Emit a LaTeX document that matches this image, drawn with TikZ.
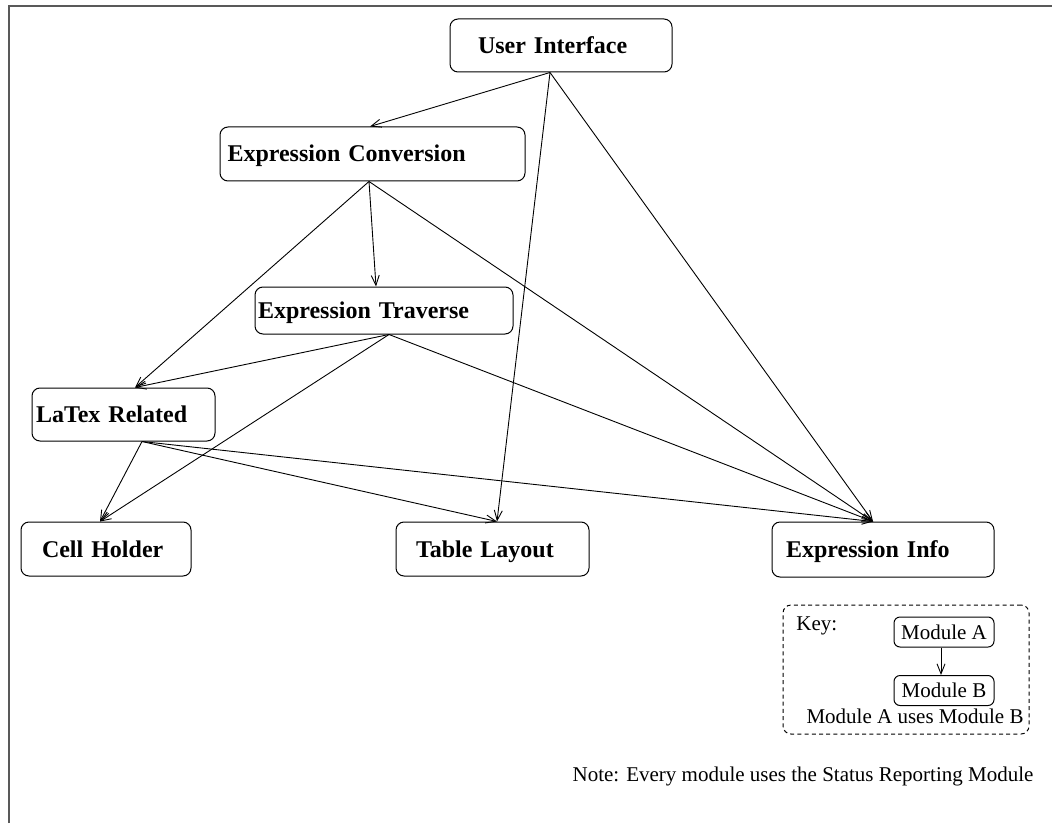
\documentclass[tikz,border=0pt]{standalone}
\usepackage{fontspec}
\setmainfont{Liberation Serif}
\usetikzlibrary{arrows.meta}

\begin{document}
\begin{tikzpicture}[x=0.5pt, y=-0.5pt,
  module/.style={draw, line width=0.5pt, rounded corners=4pt, align=left,
    font=\fontsize{12}{14}\selectfont\bfseries,
    text height=8pt, text depth=0pt, inner ysep=0pt},
  keymod/.style={draw, line width=0.5pt, rounded corners=3pt,
    font=\fontsize{10.5}{12}\selectfont, minimum width=50pt, minimum height=15pt,
    inner sep=0pt, text height=7pt, text depth=0pt},
  plain/.style={font=\fontsize{10.5}{12}\selectfont, inner sep=0pt,
    text height=7pt, text depth=0pt},
  uses/.style={draw, line width=0.45pt, -{Straight Barb[length=5pt,width=4pt]}},
  frame/.style={draw=black!65, line width=1pt}
]
\useasboundingbox (0,0) rectangle (1052,823);

% partial frame along the top and left edges
\draw[frame] (8.5,823) -- (8.5,6.5) -- (1052,6.5);

% modules
\node[module, minimum height=26.5pt, text width=83pt, inner xsep=14pt]
  (ui) at (561,45.5) {User Interface};
\node[module, minimum height=27pt, text width=145pt, inner xsep=3.75pt]
  (conv) at (372.5,154) {Expression Conversion};
\node[module, minimum height=23.5pt, text width=126pt, inner xsep=1.5pt]
  (trav) at (384,310.5) {Expression Traverse};
\node[module, minimum height=26.5pt, text width=87.5pt, inner xsep=2pt]
  (latex) at (123.5,414.5) {LaTex Related};
\node[module, minimum height=27pt, text width=64pt, inner xsep=10.5pt]
  (cell) at (106,549) {Cell Holder};
\node[module, minimum height=27pt, text width=76.5pt, inner xsep=10pt]
  (table) at (492.5,549) {Table Layout};
\node[module, minimum height=27.5pt, text width=97pt, inner xsep=7pt]
  (info) at (883,549.5) {Expression Info};

% dependencies
\draw[uses] ([xshift=-5.5pt]ui.south) -- ([xshift=-1.25pt]conv.north);
\draw[uses] ([xshift=-5.5pt]ui.south) -- ([xshift=2.25pt]table.north);
\draw[uses] ([xshift=-5.5pt]ui.south) -- ([xshift=-5pt]info.north);

\draw[uses] ([xshift=-1.75pt]conv.south) -- ([xshift=-4pt]trav.north);
\draw[uses] ([xshift=-1.75pt]conv.south) -- ([xshift=5.75pt]latex.north);
\draw[uses] ([xshift=-1.75pt]conv.south) -- ([xshift=-5pt]info.north);

\draw[uses] ([xshift=2.5pt]trav.south) -- ([xshift=5.75pt]latex.north);
\draw[uses] ([xshift=2.5pt]trav.south) -- ([xshift=-3pt]cell.north);
\draw[uses] ([xshift=2.5pt]trav.south) -- ([xshift=-5pt]info.north);

\draw[uses] ([xshift=9.25pt]latex.south) -- ([xshift=-3pt]cell.north);
\draw[uses] ([xshift=9.25pt]latex.south) -- ([xshift=2.25pt]table.north);
\draw[uses] ([xshift=9.25pt]latex.south) -- ([xshift=-5pt]info.north);

% key
\node[draw, dashed, dash pattern=on 2pt off 1.6pt, line width=0.5pt,
  rounded corners=4pt, minimum width=123pt, minimum height=64.5pt, inner sep=0pt]
  (key) at (906,669.5) {};
\node[plain, anchor=west] (keylabel) at (796,623) {Key:};
\node[keymod] (ma) at (944,632) {Module A};
\node[keymod] (mb) at (944,690.5) {Module B};
\draw[uses] ([xshift=-1.5pt]ma.south) -- ([xshift=-1.5pt]mb.north);
\node[plain] (keytext) at (915,716.5) {Module A uses Module B};

% note
\node[plain] (note) at (803,774.5) {Note: Every module uses the Status Reporting Module};
\end{tikzpicture}
\end{document}
